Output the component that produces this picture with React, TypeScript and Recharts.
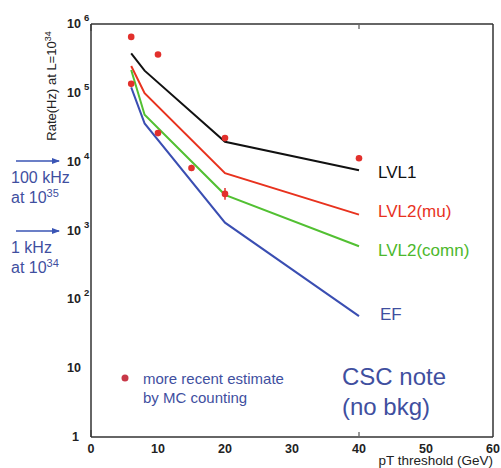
import { ComposedChart, Line, Scatter, XAxis, YAxis, ErrorBar } from 'recharts'

// trigger rate curves (CSC note)
const PT = [6, 8, 20, 40]
const LVL1 = [3.75e5, 2.1e5, 1.95e4, 7.5e3]
const LVL2_MU = [2.45e5, 9.9e4, 6.8e3, 1.7e3]
const LVL2_COMN = [2.15e5, 4.8e4, 3.3e3, 5.9e2]
const EF = [1.2e5, 3.6e4, 1.3e3, 57]

// more recent estimate by MC counting
const EST_PT = [6, 10, 6, 10, 15, 20, 20, 40]
const EST_RATE = [6.5e5, 3.6e5, 1.35e5, 2.6e4, 8.1e3, 2.2e4, 3.4e3, 1.12e4]
const EST_ERR: (number | number[])[] = [0, 0, 0, 0, [800, 900], 0, [600, 750], [1000, 1100]]

const X_MAJOR = [0, 10, 20, 30, 40, 50, 60]
const X_MINOR = [2, 4, 6, 8, 12, 14, 16, 18, 22, 24, 26, 28, 32, 34, 36, 38, 42, 44, 46, 48, 52, 54, 56, 58]
const Y_MAJOR = [1, 10, 100, 1000, 10000, 100000, 1000000]
const Y_MINOR: number[] = []
for (let k = 0; k < 6; k++) for (let m = 2; m < 10; m++) Y_MINOR.push(m * Math.pow(10, k))

const table = PT.map((x, i) => ({ x, lvl1: LVL1[i], mu: LVL2_MU[i], comn: LVL2_COMN[i], ef: EF[i] }))
const points = EST_PT.map((x, i) => ({ x, y: EST_RATE[i], err: EST_ERR[i] }))

const FONT = '"Liberation Sans", Arial, sans-serif'
const BLUE_TXT = '#3f4f9f'
const AXIS = '#333'

const XTick = ({ x, y, payload }: any) => (
  <text x={x} y={y + 16} textAnchor="middle" fontFamily={FONT} fontSize={12.5} fontWeight="bold" fill="#222">
    {payload.value}
  </text>
)

const YTick = ({ x, y, payload }: any) => {
  const v = payload.value
  const exp = Math.round(Math.log10(v))
  if (exp === 0)
    return (
      <text x={x - 12} y={y + 4} textAnchor="end" fontFamily={FONT} fontSize={12.5} fontWeight="bold" fill="#222">1</text>
    )
  return (
    <g>
      <text x={x - 10} y={y + 4} textAnchor="end" fontFamily={FONT} fontSize={12.5} fontWeight="bold" fill="#222">10</text>
      {exp > 1 && (
        <text x={x - 7} y={y - 3} fontFamily={FONT} fontSize={9.5} fontWeight="bold" fill="#222">{exp}</text>
      )}
    </g>
  )
}

const NoLabel = () => <g />

const Dot = ({ cx, cy }: any) => <circle cx={cx} cy={cy} r={3.3} fill="#e2302c" />

const Overlay = () => (
  <svg width={501} height={468} style={{ position: 'absolute', left: 0, top: 0, pointerEvents: 'none' }} fontFamily={FONT}>
    <defs>
      <marker id="ah" markerWidth="8" markerHeight="8" refX="7" refY="4" orient="auto" markerUnits="userSpaceOnUse">
        <path d="M0,1 L8,4 L0,7 Z" fill="#3a55b5" />
      </marker>
    </defs>
    <text transform="translate(56,86) rotate(-90)" textAnchor="middle" fontSize={13} fill="#222">
      Rate(Hz) at L=10<tspan dy={-5} fontSize={9}>34</tspan>
    </text>
    <text x={493} y={465} textAnchor="end" fontSize={13.5} fill="#222">pT threshold (GeV)</text>

    <line x1={16} y1={161} x2={59} y2={161} stroke="#3a55b5" strokeWidth={1.3} markerEnd="url(#ah)" />
    <text x={11} y={183} fontSize={16} fill={BLUE_TXT}>100 kHz</text>
    <text x={11} y={203} fontSize={16} fill={BLUE_TXT}>at 10<tspan dy={-6} fontSize={11}>35</tspan></text>
    <line x1={16} y1={231} x2={59} y2={231} stroke="#3a55b5" strokeWidth={1.3} markerEnd="url(#ah)" />
    <text x={11} y={253} fontSize={16} fill={BLUE_TXT}>1 kHz</text>
    <text x={11} y={273} fontSize={16} fill={BLUE_TXT}>at 10<tspan dy={-6} fontSize={11}>34</tspan></text>

    <text x={378} y={178} fontSize={17} fill="#111">LVL1</text>
    <text x={378} y={217} fontSize={17} fill="#e8321e">LVL2(mu)</text>
    <text x={378} y={256} fontSize={17} fill="#4cb82c">LVL2(comn)</text>
    <text x={380} y={320} fontSize={17} fill={BLUE_TXT}>EF</text>

    <circle cx={125} cy={378} r={3.5} fill="#c83848" />
    <text x={143} y={384} fontSize={15} fill={BLUE_TXT}>more recent estimate</text>
    <text x={143} y={403} fontSize={15} fill={BLUE_TXT}>by MC counting</text>

    <text x={342} y={385} fontSize={24} fill={BLUE_TXT}>CSC note</text>
    <text x={342} y={415} fontSize={24} fill={BLUE_TXT}>(no bkg)</text>
  </svg>
)

export default function App() {
  return (
    <div style={{ position: 'absolute', left: 0, top: 0, width: 501, height: 468, background: '#fff' }}>
      <ComposedChart width={501} height={468} data={table} margin={{ top: 24, right: 8, bottom: 6, left: 0 }}>
        {/* labelled axes */}
        <XAxis xAxisId="x" type="number" dataKey="x" domain={[0, 60]} ticks={X_MAJOR} allowDataOverflow
          height={25} tickSize={0} tickMargin={0} tickLine={false} tick={<XTick />}
          axisLine={{ stroke: AXIS, strokeWidth: 1.5 }} />
        <YAxis yAxisId="y" scale="log" domain={[1, 1e6]} ticks={Y_MAJOR} allowDataOverflow
          width={91} tickSize={0} tickMargin={0} tickLine={false} tick={<YTick />}
          axisLine={{ stroke: AXIS, strokeWidth: 1.5 }} />
        <YAxis yAxisId="pts" dataKey="y" scale="log" domain={[1, 1e6]} allowDataOverflow hide width={0} orientation="right" />

        {/* inward tick marks, bottom/top */}
        <XAxis xAxisId="bMaj" type="number" domain={[0, 60]} ticks={X_MAJOR} mirror height={1} tick={NoLabel}
          axisLine={false} tickSize={7} tickLine={{ stroke: AXIS }} />
        <XAxis xAxisId="bMin" type="number" domain={[0, 60]} ticks={X_MINOR} mirror height={1} tick={NoLabel}
          axisLine={false} tickSize={4} tickLine={{ stroke: AXIS }} />
        <XAxis xAxisId="tMaj" orientation="top" type="number" domain={[0, 60]} ticks={X_MAJOR} mirror height={1}
          tick={NoLabel} axisLine={{ stroke: AXIS, strokeWidth: 1.5 }} tickSize={7} tickLine={{ stroke: AXIS }} />
        <XAxis xAxisId="tMin" orientation="top" type="number" domain={[0, 60]} ticks={X_MINOR} mirror height={1}
          tick={NoLabel} axisLine={false} tickSize={4} tickLine={{ stroke: AXIS }} />

        {/* inward tick marks, left/right */}
        <YAxis yAxisId="lMaj" scale="log" domain={[1, 1e6]} ticks={Y_MAJOR} mirror width={1} tick={NoLabel}
          axisLine={false} tickSize={7} tickLine={{ stroke: AXIS }} />
        <YAxis yAxisId="lMin" scale="log" domain={[1, 1e6]} ticks={Y_MINOR} mirror width={1} tick={NoLabel}
          axisLine={false} tickSize={4} tickLine={{ stroke: AXIS }} />
        <YAxis yAxisId="rMaj" orientation="right" scale="log" domain={[1, 1e6]} ticks={Y_MAJOR} mirror width={1}
          tick={NoLabel} axisLine={{ stroke: AXIS, strokeWidth: 1.5 }} tickSize={7} tickLine={{ stroke: AXIS }} />
        <YAxis yAxisId="rMin" orientation="right" scale="log" domain={[1, 1e6]} ticks={Y_MINOR} mirror width={1}
          tick={NoLabel} axisLine={false} tickSize={4} tickLine={{ stroke: AXIS }} />

        <Line xAxisId="x" yAxisId="y" dataKey="lvl1" stroke="#111" strokeWidth={2} dot={false} isAnimationActive={false} />
        <Line xAxisId="x" yAxisId="y" dataKey="mu" stroke="#e8321e" strokeWidth={2} dot={false} isAnimationActive={false} />
        <Line xAxisId="x" yAxisId="y" dataKey="comn" stroke="#52c032" strokeWidth={2} dot={false} isAnimationActive={false} />
        <Line xAxisId="x" yAxisId="y" dataKey="ef" stroke="#3a4eb2" strokeWidth={2} dot={false} isAnimationActive={false} />

        <Scatter xAxisId="x" yAxisId="pts" data={points} dataKey="y" shape={<Dot />} isAnimationActive={false}>
          <ErrorBar dataKey="err" direction="y" width={0} stroke="#e2302c" strokeWidth={1.5} />
        </Scatter>
      </ComposedChart>
      <Overlay />
    </div>
  )
}
